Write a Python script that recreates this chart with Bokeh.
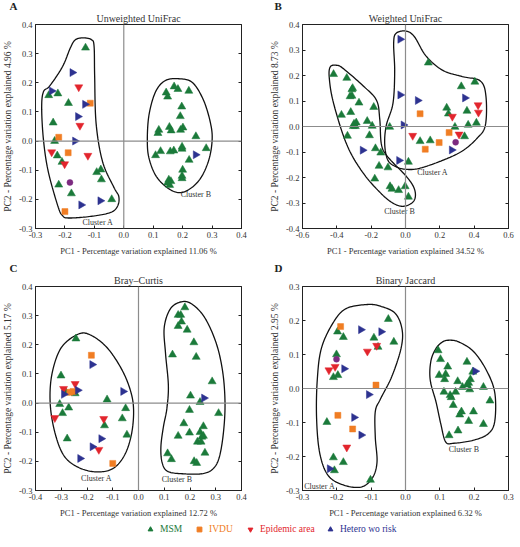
import numpy as np
from bokeh.plotting import figure
from bokeh.models import (Range1d, FixedTicker, NumeralTickFormatter, LinearAxis,
                          Span, Legend, LegendItem, ColumnDataSource, Title)
from bokeh.layouts import column, row
from bokeh.embed import file_html
from bokeh.resources import INLINE
from bokeh.core.properties import value

FONT = "Liberation Serif"
TXT = "#333333"

GROUPS = ["MSM", "IVDU", "Epidemic area", "Hetero wo risk"]
COLORS = {"MSM": "#1b7a3a", "IVDU": "#f07d23", "Epidemic area": "#e2252d",
          "Hetero wo risk": "#2d3290", "other": "#7c2b80"}

# ---------------- Panel A: Unweighted UniFrac ----------------
A_MSM = [(-0.13, 0.32), (-0.255, 0.157), (-0.224, 0.163), (-0.188, 0.13), (-0.24, 0.063),
         (-0.235, 0.0), (-0.226, -0.05), (-0.21, -0.072), (-0.221, -0.15), (-0.178, -0.18),
         (-0.092, -0.107), (-0.078, -0.098), (-0.076, -0.132), (-0.041, -0.2),
         (0.171, 0.187), (0.184, 0.178), (0.221, 0.172), (0.144, 0.166), (0.149, 0.152),
         (0.197, 0.118), (0.192, 0.085), (0.119, 0.038), (0.116, 0.027), (0.155, 0.048),
         (0.161, 0.036), (0.193, 0.038), (0.201, 0.046), (0.245, 0.016), (0.198, -0.02),
         (0.198, -0.027), (0.125, -0.035), (0.108, -0.049), (0.158, -0.036), (0.17, -0.033),
         (0.28, -0.025), (0.222, -0.065), (0.2, -0.099), (0.198, -0.12), (0.198, -0.128),
         (0.153, -0.133), (0.16, -0.138), (0.149, -0.143), (0.156, -0.151)]
A_IVDU = [(-0.114, 0.13), (-0.221, 0.013), (-0.189, -0.04), (-0.2, -0.242)]
A_EPI = [(-0.153, 0.185), (-0.149, 0.053), (-0.245, -0.038), (-0.122, -0.05), (-0.201, -0.079)]
A_HET = [(-0.175, 0.235), (-0.245, 0.172), (-0.132, 0.126), (-0.156, 0.084), (-0.166, 0.0),
         (-0.145, -0.219), (-0.08, -0.205), (0.244, -0.047)]
A_OTHER = [(-0.183, -0.142)]
A_OUT_A = [(-0.137, 0.354), (-0.11, 0.348), (-0.101, 0.326), (-0.099, 0.223), (-0.094, 0.06),
           (-0.072, -0.071), (-0.034, -0.158), (-0.017, -0.19), (-0.021, -0.223), (-0.045, -0.245),
           (-0.11, -0.258), (-0.186, -0.264), (-0.208, -0.256), (-0.224, -0.223), (-0.257, -0.103),
           (-0.273, 0.005), (-0.279, 0.114), (-0.273, 0.169), (-0.251, 0.19), (-0.208, 0.256),
           (-0.181, 0.321), (-0.164, 0.348)]
A_OUT_B = [(0.184, 0.214), (0.233, 0.201), (0.271, 0.14), (0.295, 0.06), (0.3, 0.0),
           (0.287, -0.071), (0.255, -0.136), (0.206, -0.174), (0.162, -0.169), (0.113, -0.125),
           (0.086, -0.06), (0.08, 0.005), (0.086, 0.092), (0.108, 0.169), (0.14, 0.207)]
A_LABELS = [("Cluster A", -0.088, -0.278), ("Cluster B", 0.245, -0.184)]

# ---------------- Panel B: Weighted UniFrac ----------------
B_MSM = [(0.133, 0.25), (0.404, 0.175), (0.325, 0.157), (0.24, 0.073), (0.25, 0.05),
         (0.358, 0.061), (0.288, -0.002), (0.365, 0.006), (0.413, 0.014), (-0.092, -0.002),
         (0.085, -0.058), (0.144, -0.055), (0.344, -0.039), (0.017, -0.139),
         (-0.419, 0.205), (-0.342, 0.19), (-0.308, 0.15), (-0.312, 0.145), (-0.323, 0.118),
         (-0.312, 0.12), (-0.271, 0.093), (-0.185, 0.076), (-0.373, 0.045), (-0.319, 0.056),
         (-0.3, 0.01), (-0.287, 0.015), (-0.292, 0.001), (-0.304, 0.001), (-0.223, 0.021),
         (-0.194, 0.002), (-0.338, -0.037), (-0.21, -0.035), (-0.175, -0.086), (-0.144, -0.103),
         (-0.154, -0.155), (-0.102, -0.161), (-0.179, -0.205), (-0.09, -0.235), (-0.079, -0.245),
         (-0.04, -0.25), (-0.002, -0.235), (0.017, -0.276)]
B_IVDU = [(0.085, 0.05), (0.254, -0.024), (0.196, -0.063), (0.115, -0.089)]
B_EPI = [(0.273, 0.039), (0.423, 0.084), (0.425, 0.055), (0.042, -0.036), (0.312, -0.031)]
B_HET = [(-0.031, 0.342), (0.346, 0.112), (-0.031, 0.124), (0.071, 0.102), (-0.012, 0.006),
         (0.269, -0.092), (-0.038, -0.133), (-0.25, -0.093)]
B_OTHER = [(0.292, -0.062)]
B_OUT_A = [(-0.054, 0.366), (0.004, 0.374), (0.052, 0.352), (0.119, 0.277), (0.215, 0.221),
           (0.331, 0.196), (0.437, 0.178), (0.469, 0.116), (0.465, 0.004), (0.417, -0.046),
           (0.331, -0.096), (0.215, -0.133), (0.081, -0.164), (0.004, -0.168), (-0.054, -0.158),
           (-0.102, -0.133), (-0.121, -0.071), (-0.112, 0.004), (-0.073, 0.091), (-0.063, 0.215),
           (-0.069, 0.327)]
B_OUT_B = [(-0.438, 0.234), (-0.4, 0.24), (-0.362, 0.227), (-0.246, 0.159), (-0.169, 0.103),
           (-0.15, 0.029), (-0.14, -0.071), (-0.102, -0.12), (0.004, -0.195), (0.052, -0.245),
           (0.052, -0.288), (0.004, -0.311), (-0.054, -0.307), (-0.131, -0.27), (-0.246, -0.183),
           (-0.342, -0.071), (-0.419, 0.091), (-0.444, 0.19)]
B_LABELS = [("Cluster A", 0.158, -0.18), ("Cluster B", -0.035, -0.335)]

# ---------------- Panel C: Bray-Curtis ----------------
C_MSM = [(-0.243, 0.221), (-0.301, 0.094), (-0.306, -0.004), (-0.271, -0.016), (-0.295, -0.035),
         (-0.277, -0.122), (-0.122, 0.012), (-0.05, -0.018), (-0.063, -0.053), (-0.132, -0.077),
         (-0.045, -0.109), (-0.281, 0.036), (-0.246, 0.033),
         (0.18, 0.328), (0.154, 0.302), (0.164, 0.302), (0.167, 0.279), (0.154, 0.264),
         (0.189, 0.251), (0.215, 0.208), (0.132, 0.166), (0.224, 0.158), (0.286, 0.074),
         (0.202, 0.025), (0.239, 0.003), (0.198, -0.024), (0.311, -0.035), (0.176, -0.07),
         (0.252, -0.08), (0.198, -0.102), (0.239, -0.1), (0.246, -0.116), (0.252, -0.113),
         (0.154, -0.113), (0.229, -0.133), (0.243, -0.133), (0.258, -0.171), (0.113, -0.173),
         (0.128, -0.193), (0.216, -0.2), (0.226, -0.206)]
C_IVDU = [(-0.267, 0.037), (-0.254, 0.04), (-0.183, 0.164), (-0.1, -0.207)]
C_EPI = [(-0.291, 0.049), (-0.246, 0.066), (-0.325, -0.051), (-0.135, -0.054), (-0.154, -0.16)]
C_HET = [(-0.29, 0.03), (-0.236, 0.044), (-0.18, 0.132), (-0.06, 0.04), (-0.145, -0.122),
         (-0.179, -0.15), (-0.227, -0.19), (0.254, 0.017)]
C_OTHER = []
C_OUT_A = [(-0.233, 0.237), (-0.183, 0.232), (-0.12, 0.188), (-0.063, 0.112), (-0.029, 0.036),
           (-0.019, -0.03), (-0.028, -0.11), (-0.055, -0.18), (-0.1, -0.225), (-0.165, -0.236),
           (-0.235, -0.22), (-0.29, -0.18), (-0.325, -0.1), (-0.343, 0.0), (-0.336, 0.1),
           (-0.3, 0.19)]
C_OUT_B = [(0.17, 0.348), (0.21, 0.338), (0.258, 0.292), (0.302, 0.205), (0.327, 0.107),
           (0.336, 0.0), (0.33, -0.1), (0.314, -0.185), (0.29, -0.225), (0.25, -0.242),
           (0.18, -0.243), (0.115, -0.235), (0.092, -0.205), (0.087, -0.15), (0.097, -0.08),
           (0.11, -0.02), (0.116, 0.06), (0.105, 0.17), (0.1, 0.26), (0.125, 0.325)]
C_LABELS = [("Cluster A", -0.163, -0.258), ("Cluster B", 0.149, -0.261)]

# ---------------- Panel D: Binary Jaccard ----------------
D_MSM = [(-0.198, 0.167), (-0.181, 0.151), (-0.05, 0.204), (-0.092, 0.149), (-0.034, 0.137),
         (-0.08, 0.122), (-0.201, 0.1), (-0.197, 0.039), (-0.21, 0.033), (-0.229, -0.099),
         (-0.21, -0.203), (-0.181, -0.217), (-0.207, -0.241), (-0.102, -0.269),
         (0.095, 0.112), (0.102, 0.086), (0.123, 0.064), (0.098, 0.039), (0.117, 0.042),
         (0.114, 0.027), (0.179, 0.078), (0.196, 0.049), (0.152, 0.021), (0.189, 0.027),
         (0.184, 0.016), (0.179, 0.011), (0.166, 0.004), (0.187, -0.003), (0.227, 0.004),
         (0.112, -0.01), (0.13, -0.02), (0.133, -0.026), (0.146, -0.01), (0.246, -0.036),
         (0.139, -0.049), (0.163, -0.068), (0.158, -0.077), (0.198, -0.068), (0.184, -0.096),
         (0.227, -0.105), (0.153, -0.124), (0.127, -0.138)]
D_IVDU = [(-0.189, 0.182), (-0.086, 0.01), (-0.197, -0.079), (-0.154, -0.119)]
D_EPI = [(-0.111, 0.109), (-0.084, 0.126), (-0.223, 0.054), (-0.205, 0.064), (-0.171, -0.173)]
D_HET = [(-0.13, 0.173), (-0.071, 0.167), (-0.179, 0.058), (-0.107, -0.018), (-0.15, -0.085),
         (-0.129, -0.137), (-0.221, -0.236), (0.203, 0.051)]
D_OTHER = [(-0.201, 0.086)]
D_OUT_A = [(-0.111, 0.247), (-0.073, 0.242), (-0.03, 0.221), (-0.01, 0.174), (-0.013, 0.118),
           (-0.04, 0.035), (-0.073, -0.031), (-0.088, -0.068), (-0.088, -0.143), (-0.083, -0.217),
           (-0.097, -0.264), (-0.13, -0.29), (-0.183, -0.283), (-0.226, -0.255), (-0.25, -0.189),
           (-0.259, -0.087), (-0.257, 0.025), (-0.245, 0.118), (-0.211, 0.193), (-0.173, 0.235)]
D_OUT_B = [(0.127, 0.142), (0.155, 0.137), (0.198, 0.109), (0.236, 0.053), (0.26, -0.012),
           (0.26, -0.096), (0.241, -0.133), (0.198, -0.152), (0.141, -0.161), (0.117, -0.157),
           (0.103, -0.105), (0.089, -0.04), (0.072, 0.025), (0.074, 0.081), (0.089, 0.118),
           (0.108, 0.137)]
D_LABELS = [("Cluster A", -0.25, -0.289), ("Cluster B", 0.17, -0.18)]

PANELS = [
    dict(letter="A", title="Unweighted UniFrac", xr=(-0.3, 0.4), yr=(-0.3, 0.4), xstep=0.1, ystep=0.1,
         xlabel="PC1 - Percentage variation explained 11.06 %",
         ylabel="PC2 - Percentage variation explained 4.96 %",
         data=[A_MSM, A_IVDU, A_EPI, A_HET, A_OTHER], outlines=[A_OUT_A, A_OUT_B], labels=A_LABELS),
    dict(letter="B", title="Weighted UniFrac", xr=(-0.6, 0.6), yr=(-0.4, 0.4), xstep=0.2, ystep=0.1,
         xlabel="PC1 - Percentage variation explained 34.52 %",
         ylabel="PC2 - Percentage variation explained 8.73 %",
         data=[B_MSM, B_IVDU, B_EPI, B_HET, B_OTHER], outlines=[B_OUT_A, B_OUT_B], labels=B_LABELS),
    dict(letter="C", title="Bray\u2013Curtis", xr=(-0.4, 0.4), yr=(-0.3, 0.4), xstep=0.1, ystep=0.1,
         xlabel="PC1 - Percentage variation explained 12.72 %",
         ylabel="PC2 - Percentage variation explained 5.17 %",
         data=[C_MSM, C_IVDU, C_EPI, C_HET, C_OTHER], outlines=[C_OUT_A, C_OUT_B], labels=C_LABELS),
    dict(letter="D", title="Binary Jaccard", xr=(-0.3, 0.3), yr=(-0.3, 0.3), xstep=0.1, ystep=0.1,
         xlabel="PC1 - Percentage variation explained 6.32 %",
         ylabel="PC2 - Percentage variation explained 2.95 %",
         data=[D_MSM, D_IVDU, D_EPI, D_HET, D_OTHER], outlines=[D_OUT_A, D_OUT_B], labels=D_LABELS),
]

MARKERS = [("triangle", 0.0, 8), ("square", 0.0, 6), ("inverted_triangle", 0.0, 8),
           ("triangle", -np.pi / 2, 8), ("circle", 0.0, 6)]
SERIES_KEYS = ["MSM", "IVDU", "Epidemic area", "Hetero wo risk", "other"]


def smooth_closed(pts, n=14):
    """Closed Catmull-Rom curve through the outline points."""
    P = np.array(pts, dtype=float)
    m = len(P)
    xs, ys = [], []
    for i in range(m):
        p0, p1, p2, p3 = P[(i - 1) % m], P[i], P[(i + 1) % m], P[(i + 2) % m]
        for t in np.linspace(0, 1, n, endpoint=False):
            t2, t3 = t * t, t * t * t
            pt = 0.5 * ((2 * p1) + (-p0 + p2) * t + (2 * p0 - 5 * p1 + 4 * p2 - p3) * t2
                        + (-p0 + 3 * p1 - 3 * p2 + p3) * t3)
            xs.append(pt[0]); ys.append(pt[1])
    xs.append(xs[0]); ys.append(ys[0])
    return xs, ys


def ticks(lo, hi, step):
    k = int(round((hi - lo) / step))
    return [round(lo + i * step, 2) for i in range(k + 1)]


def make_panel(cfg, bl, br, bb, fw, fh):
    p = figure(frame_width=fw, frame_height=fh, x_range=Range1d(*cfg["xr"]), y_range=Range1d(*cfg["yr"]),
               toolbar_location=None, output_backend="svg", min_border_left=bl, min_border_right=br,
               min_border_top=0, min_border_bottom=bb)
    # panel letter (outer title, shifted into the left margin)
    p.title.text = cfg["letter"]
    p.title.align = "left"
    p.title.offset = -(bl - 2)
    p.title.text_font = FONT
    p.title.text_font_size = "11px"
    p.title.text_font_style = "bold"
    p.title.text_color = "#222222"
    p.title.standoff = -5
    p.title.text_line_height = 1.0
    # centered panel title (inner)
    p.add_layout(Title(text=cfg["title"], align="center", text_font=FONT, text_font_size="10px",
                       text_font_style="normal", text_color=TXT, standoff=2, text_line_height=1.0),
                 "above")
    p.xgrid.visible = False
    p.ygrid.visible = False
    p.outline_line_color = "#222222"
    p.background_fill_color = "white"
    p.border_fill_color = "white"

    xt = ticks(cfg["xr"][0], cfg["xr"][1], cfg["xstep"])
    yt = ticks(cfg["yr"][0], cfg["yr"][1], cfg["ystep"])
    for ax, tk in ((p.xaxis[0], xt), (p.yaxis[0], yt)):
        ax.ticker = FixedTicker(ticks=tk)
        ax.formatter = NumeralTickFormatter(format="0.0")
        ax.major_tick_in = 3
        ax.major_tick_out = 0
        ax.minor_tick_line_color = None
        ax.major_label_text_font = FONT
        ax.major_label_text_font_size = "8.5px"
        ax.major_label_text_color = TXT
        ax.major_label_standoff = 3
        ax.axis_label_text_font = FONT
        ax.axis_label_text_font_style = "normal"
        ax.axis_label_text_color = TXT
        ax.axis_line_color = "#222222"
        ax.major_tick_line_color = "#222222"
    p.xaxis[0].axis_label = cfg["xlabel"]
    p.xaxis[0].axis_label_text_font_size = "8.5px"
    p.xaxis[0].axis_label_standoff = 5
    p.yaxis[0].axis_label = cfg["ylabel"]
    p.yaxis[0].axis_label_text_font_size = "9.5px"
    p.yaxis[0].axis_label_standoff = 3

    ra = LinearAxis(ticker=FixedTicker(ticks=yt), major_tick_in=3, major_tick_out=0,
                    minor_tick_line_color=None, major_label_text_font_size="1px",
                    major_label_text_color=None, major_label_standoff=0,
                    axis_line_color="#222222", major_tick_line_color="#222222")
    p.add_layout(ra, "right")

    p.add_layout(Span(location=0, dimension="width", line_color="#8c8c8c", line_width=1.2))
    p.add_layout(Span(location=0, dimension="height", line_color="#8c8c8c", line_width=1.2))

    for outline in cfg["outlines"]:
        xs, ys = smooth_closed(outline)
        p.line(xs, ys, line_color="#111111", line_width=1.3)

    for key, pts, (mk, ang, sz) in zip(SERIES_KEYS, cfg["data"], MARKERS):
        if not pts:
            continue
        src = ColumnDataSource(dict(x=[q[0] for q in pts], y=[q[1] for q in pts]))
        p.scatter("x", "y", source=src, marker=mk, angle=ang, size=sz,
                  fill_color=COLORS[key], line_color=COLORS[key], line_width=0.5)

    lsrc = ColumnDataSource(dict(t=[q[0] for q in cfg["labels"]], x=[q[1] for q in cfg["labels"]],
                                 y=[q[2] for q in cfg["labels"]]))
    p.text("x", "y", text="t", source=lsrc, text_font=value(FONT), text_font_size="8px",
           text_color=TXT, text_align="center", text_baseline="middle")
    return p


FW, FH = 206, 204
pA = make_panel(PANELS[0], bl=28, br=26, bb=34, fw=FW, fh=FH)
pB = make_panel(PANELS[1], bl=30, br=8, bb=34, fw=FW, fh=FH)
pC = make_panel(PANELS[2], bl=28, br=26, bb=30, fw=FW, fh=FH)
pD = make_panel(PANELS[3], bl=30, br=8, bb=30, fw=FW, fh=FH)

# legend strip
leg = figure(width=504, height=16, toolbar_location=None, output_backend="svg",
             x_range=Range1d(0, 1), y_range=Range1d(0, 1), min_border=0)
leg.axis.visible = False
leg.xgrid.visible = False
leg.ygrid.visible = False
leg.outline_line_color = None
LEG_X = [144, 193, 244, 324]
for key, (mk, ang, sz), lx in zip(GROUPS, MARKERS[:4], LEG_X):
    r = leg.scatter(x=[-5], y=[-5], marker=mk, angle=ang, size=sz + 3,
                    fill_color=COLORS[key], line_color=COLORS[key])
    lg = Legend(items=[LegendItem(label=key, renderers=[r])], location=(lx, 1),
                orientation="horizontal", label_text_color=COLORS[key], label_text_font=FONT,
                label_text_font_size="9.5px", glyph_width=12, glyph_height=12,
                label_standoff=4, padding=0, spacing=0, margin=0,
                border_line_color=None, background_fill_alpha=0)
    leg.add_layout(lg, "center")

layout = column(row(pA, pB), row(pC, pD), leg)
open("out.html", "w").write(file_html(layout, INLINE))
